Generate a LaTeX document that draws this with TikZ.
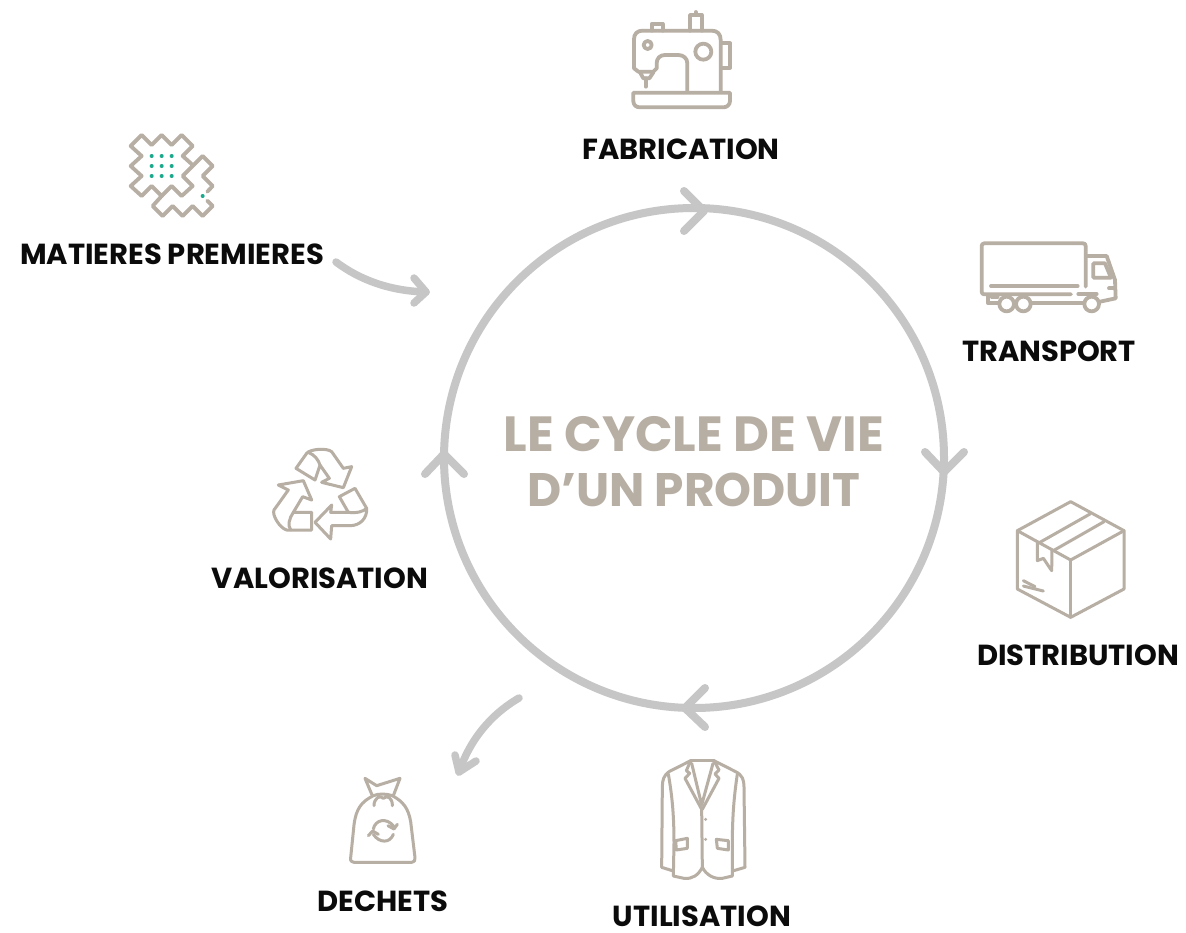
\documentclass[tikz,border=0pt]{standalone}
\usepackage{fontspec}
\setmainfont{Poppins}
\definecolor{taupe}{HTML}{B7AEA4}
\definecolor{ringgrey}{HTML}{C6C6C6}
\definecolor{teal}{HTML}{1BA98C}
\definecolor{labelink}{HTML}{0B0B0B}
\tikzset{
  icon/.style={draw=taupe,line width=3.8pt,line join=round,line cap=round},
  thinicon/.style={draw=taupe,line width=3pt,line join=round,line cap=round},
  label/.style={text=labelink,font=\fontsize{29}{33}\selectfont\bfseries,inner sep=0pt,anchor=center},
  title/.style={text=taupe,font=\fontsize{49.4}{58}\selectfont\bfseries,inner sep=0pt,anchor=center},
  titlesmall/.style={text=taupe,font=\fontsize{47}{58}\selectfont\bfseries,inner sep=0pt,anchor=center},
  ring/.style={draw=ringgrey,line width=8pt,circle,minimum size=500pt,inner sep=0pt},
  chevron/.style={draw=ringgrey,line width=8pt,line cap=round,line join=round},
  flow/.style={draw=ringgrey,line width=7.5pt,line cap=round,line join=round}
}
\begin{document}
\begin{tikzpicture}[x=1pt,y=-1pt]
\useasboundingbox (0,0) rectangle (1186,932);
\fill[white] (0,0) rectangle (1186,932);
% ring
\node[ring] (cycle) at (694,458) {};
\draw[chevron] (684,191) -- (704,211) -- (684,231);
\draw[chevron] (925,452) -- (944,472) -- (964,452);
\draw[chevron] (705,688) -- (685,708) -- (705,727);
\draw[chevron] (425,474) -- (444,454) -- (464,474);
% title
\node[title] (t1) at (694,434) {LE CYCLE DE VIE};
\node[titlesmall] (t2) at (694,490) {D’UN PRODUIT};
% labels
\node[label] (mat) at (172,254) {MATIERES PREMIERES};
\node[label] (fab) at (681,149) {FABRICATION};
\node[label] (tra) at (1049,351) {TRANSPORT};
\node[label] (dis) at (1078,655) {DISTRIBUTION};
\node[label] (uti) at (702,916) {UTILISATION};
\node[label] (dec) at (383,901) {DECHETS};
\node[label] (val) at (320,578) {VALORISATION};
% side arrows
\coordinate (matS) at (336,262);
\coordinate (matE) at (426,292);
\draw[flow] (matS) .. controls (360,280) and (390,291) .. (matE);
\draw[flow] (414,278) -- (matE) -- (414,303);
\coordinate (decS) at (519,698);
\coordinate (decE) at (459,772);
\draw[flow] (decS) .. controls (490,715) and (470,740) .. (decE);
\draw[flow] (455,755) -- (decE) -- (476,761);
% matieres icon
\begin{scope}[shift={(100,120)},scale=1/3]
\draw[icon] (322,215) -- (338,198) -- (308,168) -- (338,138) -- (308,108) -- (248,168) -- (278,198) -- (245,228) -- (215,198) -- (185,228) -- (155,198) -- (125,228) -- (92,198) -- (125,168) -- (92,138) -- (125,108) -- (92,78) -- (125,45) -- (155,75) -- (185,45) -- (215,75) -- (245,45) -- (278,78) -- (248,108) -- (278,135);
\draw[icon] (322,242) -- (338,258) -- (308,288) -- (278,258) -- (248,288) -- (218,258) -- (188,288) -- (158,258) -- (185,228);
\foreach \px in {155,185,215} \foreach \py in {108,138,168} \fill[teal] (\px,\py) circle (6);
\fill[teal] (308,228) circle (6);
\end{scope}
% sewing machine
\begin{scope}[shift={(610,0)},scale=1/3]
\draw[icon] (232,275) -- (232,190) .. controls (232,175) and (220,165) .. (205,165) -- (165,165) .. controls (150,165) and (140,175) .. (140,190) -- (140,205) -- (130,215) -- (85,215) -- (72,205) -- (72,117) .. controls (72,102) and (82,92) .. (97,92) -- (305,92) .. controls (322,92) and (332,102) .. (332,120) -- (332,275);
\draw[icon] (280,155) circle (24);
\draw[icon] (113,135) circle (12);
\draw[icon] (336,130) -- (360,130) -- (360,203) -- (336,203);
\draw[icon] (240,92) -- (240,45) -- (275,45) -- (275,92);
\draw[icon] (257,36) -- (257,45);
\draw[icon] (125,92) -- (125,72) -- (158,72) -- (158,92);
\draw[icon] (90,217) -- (100,235) -- (118,235) -- (130,217);
\draw[icon] (107,235) -- (107,260);
\draw[icon] (70,278) -- (360,278) -- (360,303) .. controls (360,315) and (350,322) .. (340,322) -- (90,322) .. controls (78,322) and (70,315) .. (70,303) -- cycle;
\end{scope}
% truck
\begin{scope}[shift={(965,230)},scale=1/3]
\draw[icon] (318,193) -- (58,193) .. controls (53,193) and (50,190) .. (50,185) -- (50,48) .. controls (50,43) and (53,40) .. (58,40) -- (354,40) .. controls (359,40) and (362,43) .. (362,48) -- (362,170);
\draw[icon] (78,168) -- (338,168);
\draw[icon] (365,78) -- (425,78) -- (450,150) -- (452,205) -- (405,215);
\draw[icon] (385,100) -- (420,100) -- (438,143) -- (385,143) -- cycle;
\draw[icon] (340,192) -- (395,192);
\draw[icon] (432,175) -- (450,175);
\draw[icon] (380,222) circle (22);
\draw[icon] (125,222) circle (22);
\draw[icon] (175,222) circle (22);
\draw[icon] (200,218) -- (356,218);
\draw[icon] (68,200) -- (68,218) -- (100,218);
\draw[icon] (80,200) -- (98,200);
\end{scope}
% box
\begin{scope}[shift={(1000,490)},scale=1/3]
\draw[thinicon] (212,35) -- (372,122) -- (372,297) -- (212,382) -- (52,297) -- (52,122) -- cycle;
\draw[thinicon] (52,122) -- (212,210) -- (372,122);
\draw[thinicon] (212,210) -- (212,382);
\draw[thinicon] (118,158) -- (270,72);
\draw[thinicon] (160,182) -- (312,95);
\draw[thinicon] (112,155) -- (112,212) -- (130,205) -- (155,242) -- (156,180);
\draw[thinicon] (70,272) -- (105,290);
\draw[thinicon] (70,288) -- (130,303);
\end{scope}
% jacket
\begin{scope}[shift={(639,750)},scale=1/3]
\draw[thinicon] (155,32) -- (225,32);
\draw[thinicon] (155,32) -- (90,65) .. controls (75,75) and (70,90) .. (70,110) -- (68,352) -- (100,362);
\draw[thinicon] (225,32) -- (290,65) .. controls (310,75) and (315,90) .. (315,110) -- (318,352) -- (284,362);
\draw[thinicon] (88,72) .. controls (100,140) and (105,200) .. (105,280) -- (103,378) -- (135,385) .. controls (160,388) and (178,375) .. (190,352) .. controls (202,375) and (225,388) .. (250,385) -- (280,378) -- (280,280) .. controls (280,200) and (285,140) .. (295,72);
\draw[thinicon] (155,32) -- (142,62) -- (152,70) -- (138,85) -- (188,178) -- (190,352);
\draw[thinicon] (225,32) -- (240,60) -- (228,72) -- (240,85) -- (190,178);
\draw[thinicon] (158,40) -- (188,165) -- (222,40);
\fill[taupe] (200,208) circle (5);
\fill[taupe] (200,268) circle (5);
\draw[thinicon] (110,272) -- (145,265) -- (145,295) -- (112,300) -- cycle;
\draw[thinicon] (232,268) -- (268,272) -- (268,300) -- (235,295) -- cycle;
\end{scope}
% bag
\begin{scope}[shift={(330,765)},scale=1/3]
\draw[thinicon] (127,92) -- (105,40) -- (140,62) -- (210,40) -- (190,92);
\draw[thinicon] (132,122) .. controls (132,100) and (150,88) .. (160,100) .. controls (172,88) and (188,100) .. (187,122);
\draw[thinicon] (130,92) .. controls (95,110) and (78,130) .. (72,180) -- (62,278) .. controls (60,288) and (66,292) .. (72,292) -- (245,292) .. controls (252,292) and (257,286) .. (255,278) -- (242,170) .. controls (235,130) and (220,110) .. (187,92) .. controls (170,86) and (145,85) .. (130,92);
\draw[thinicon] (130,192) .. controls (135,165) and (170,155) .. (192,185);
\draw[thinicon] (174,182) -- (192,192) -- (202,178);
\draw[thinicon] (190,208) .. controls (180,235) and (148,235) .. (130,208);
\draw[thinicon] (115,212) -- (128,198) -- (145,208);
\end{scope}
% recycling
\begin{scope}[shift={(260,435)},scale=1/3]
\draw[thinicon] (108,100) -- (140,55) .. controls (150,42) and (200,38) .. (215,50) -- (250,100) -- (275,95) -- (250,158) -- (185,142) -- (208,130) -- (180,90) -- (165,135) -- cycle;
\draw[thinicon] (145,52) .. controls (165,60) and (175,75) .. (180,90);
\draw[thinicon] (55,150) -- (130,137) -- (155,195) -- (128,185) -- (100,232) -- (155,232) -- (155,285) -- (80,285) .. controls (60,280) and (35,240) .. (42,225) -- (85,165) -- cycle;
\draw[thinicon] (100,232) .. controls (88,250) and (82,270) .. (92,285);
\draw[thinicon] (165,262) -- (215,210) -- (212,232) -- (265,232) -- (238,185) -- (285,160) -- (320,220) .. controls (322,250) and (300,272) .. (270,272) -- (215,272) -- (212,312) -- cycle;
\draw[thinicon] (265,232) .. controls (290,235) and (310,230) .. (320,220);
\end{scope}
\end{tikzpicture}
\end{document}
